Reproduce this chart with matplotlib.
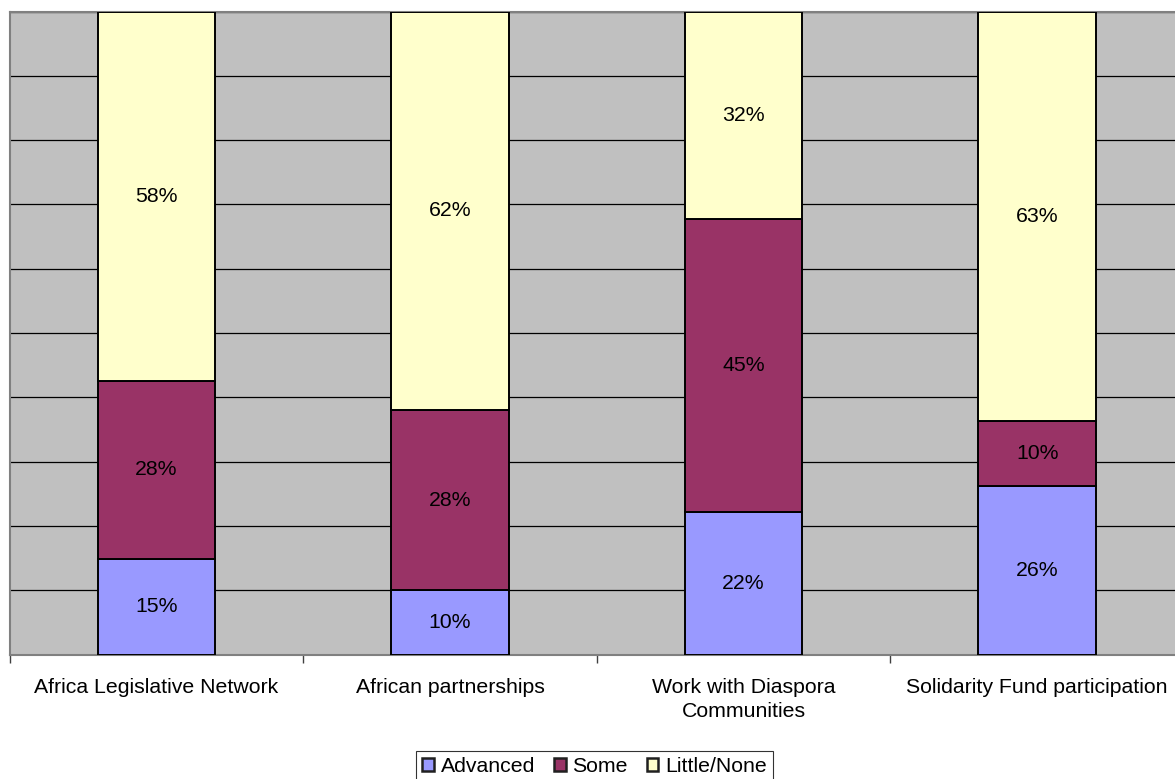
import numpy as np
import matplotlib.pyplot as plt

plt.rcParams['font.family'] = ['Liberation Sans', 'DejaVu Sans']

# data (percent of respondents)
categories = ["Africa Legislative Network", "African partnerships",
              "Work with Diaspora\nCommunities", "Solidarity Fund participation"]
advanced = [15, 10, 22, 26]
some = [28, 28, 45, 10]
little_none = [58, 62, 32, 63]

series_names = ["Advanced", "Some", "Little/None"]
series_colors = ["#9999FF", "#993366", "#FFFFCC"]

FS = 15.3
W, H = 1175, 779
fig = plt.figure(figsize=(W / 100, H / 100), dpi=100)
ax = fig.add_axes([9.5 / W, 1 - 654.5 / H, (1184 - 9.5) / W, (654.5 - 11.5) / H])
ax.set_facecolor("#C0C0C0")

data = np.array([advanced, some, little_none], dtype=float)
totals = data.sum(axis=0)
shares = data / totals * 100  # 100% stacked

x = np.arange(len(categories))
bottom = np.zeros(len(categories))
for i in range(len(series_names)):
    ax.bar(x, shares[i], 0.4, bottom=bottom, color=series_colors[i],
           edgecolor="black", linewidth=1.4, label=series_names[i], zorder=3)
    for j in range(len(categories)):
        ax.text(x[j], bottom[j] + shares[i][j] / 2, "%d%%" % data[i][j],
                ha="center", va="center", fontsize=FS, color="black", zorder=4)
    bottom += shares[i]

ax.set_xlim(-0.5, len(categories) - 0.5)
ax.set_ylim(0, 100)
ax.set_yticks(np.arange(0, 101, 10))
ax.yaxis.grid(True, color="black", linewidth=0.9, zorder=1)
ax.tick_params(axis="y", left=False, labelleft=False)

ax.set_xticks(x)
ax.set_xticklabels(categories, fontsize=FS, linespacing=1.3)
ax.tick_params(axis="x", which="major", length=0, pad=17)
ax.set_xticks(np.arange(-0.5, len(categories), 1.0), minor=True)
ax.tick_params(axis="x", which="minor", length=6, color="#404040", width=1)

for s in ["top", "right", "left", "bottom"]:
    ax.spines[s].set_color("#808080")
    ax.spines[s].set_linewidth(1.5)

leg = fig.legend(loc="upper center", bbox_to_anchor=(594.5 / W, 1 - 751 / H),
                 ncol=3, fontsize=FS, frameon=True, fancybox=False,
                 edgecolor="black", handlelength=0.55, handleheight=0.55,
                 handletextpad=0.3, columnspacing=0.9, borderpad=0.3,
                 borderaxespad=0)
leg.get_frame().set_linewidth(0.8)
for p in leg.get_patches():
    p.set_linewidth(1.8)
    p.set_edgecolor("#202020")

fig.savefig("out.png", dpi=100, facecolor="white")
